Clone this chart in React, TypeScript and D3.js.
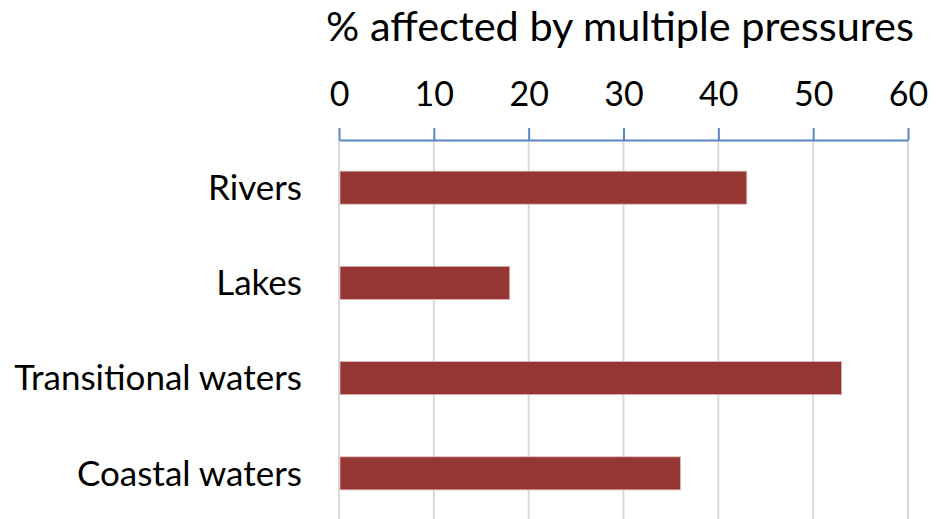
import React, { useEffect, useRef } from 'react';
import * as d3 from 'd3';

const categories = ['Rivers', 'Lakes', 'Transitional waters', 'Coastal waters'];
const values = [43, 18, 53, 36];
const ticks = [0, 10, 20, 30, 40, 50, 60];
const title = '% affected by multiple pressures';

const W = 945;
const H = 519;
const FONT = 'Lato, "Open Sans", sans-serif';

export default function App() {
  const ref = useRef<SVGSVGElement>(null);

  useEffect(() => {
    const svg = d3.select(ref.current);
    svg.selectAll('*').remove();

    const x = d3.scaleLinear().domain([0, 60]).range([339, 908]);
    const y = d3.scaleBand<string>()
      .domain(categories)
      .range([140, 521])
      .paddingInner(0.653)
      .paddingOuter(0.327);

    // gridlines
    svg.append('g')
      .selectAll('line')
      .data(ticks)
      .enter()
      .append('line')
      .attr('x1', d => x(d))
      .attr('x2', d => x(d))
      .attr('y1', 140)
      .attr('y2', H)
      .attr('stroke', '#d9d9d9')
      .attr('stroke-width', 2);

    // bars
    svg.append('g')
      .selectAll('rect')
      .data(values)
      .enter()
      .append('rect')
      .attr('x', x(0) + 1)
      .attr('y', (d, i) => y(categories[i]) as number)
      .attr('width', d => x(d) - x(0) - 1)
      .attr('height', y.bandwidth())
      .attr('fill', '#943634')
      .attr('stroke', '#e0b8b7')
      .attr('stroke-width', 0.8);

    // top axis
    const axis = d3.axisTop(x).tickValues(ticks).tickSize(12).tickSizeOuter(0).tickPadding(22);
    const g = svg.append('g')
      .attr('transform', 'translate(0,140)')
      .call(axis);
    g.select('.domain').attr('stroke', '#5b86c4').attr('stroke-width', 2);
    g.selectAll('.tick line').attr('stroke', '#5b86c4').attr('stroke-width', 2);
    g.selectAll('.tick text')
      .attr('fill', '#000')
      .style('font-family', FONT)
      .style('font-size', '34px');

    // category labels
    svg.append('g')
      .selectAll('text')
      .data(categories)
      .enter()
      .append('text')
      .attr('x', 302)
      .attr('y', d => (y(d) as number) + y.bandwidth() / 2)
      .attr('dy', '0.35em')
      .attr('text-anchor', 'end')
      .style('font-family', FONT)
      .style('font-size', '35px')
      .text(d => d);

    // title
    svg.append('text')
      .attr('x', 620)
      .attr('y', 41)
      .attr('text-anchor', 'middle')
      .style('font-family', FONT)
      .style('font-size', '41.5px')
      .text(title);
  }, []);

  return (
    <div style={{ position: 'absolute', left: 0, top: 0 }}>
      <svg ref={ref} width={W} height={H} style={{ display: 'block', background: '#fff' }} />
    </div>
  );
}
